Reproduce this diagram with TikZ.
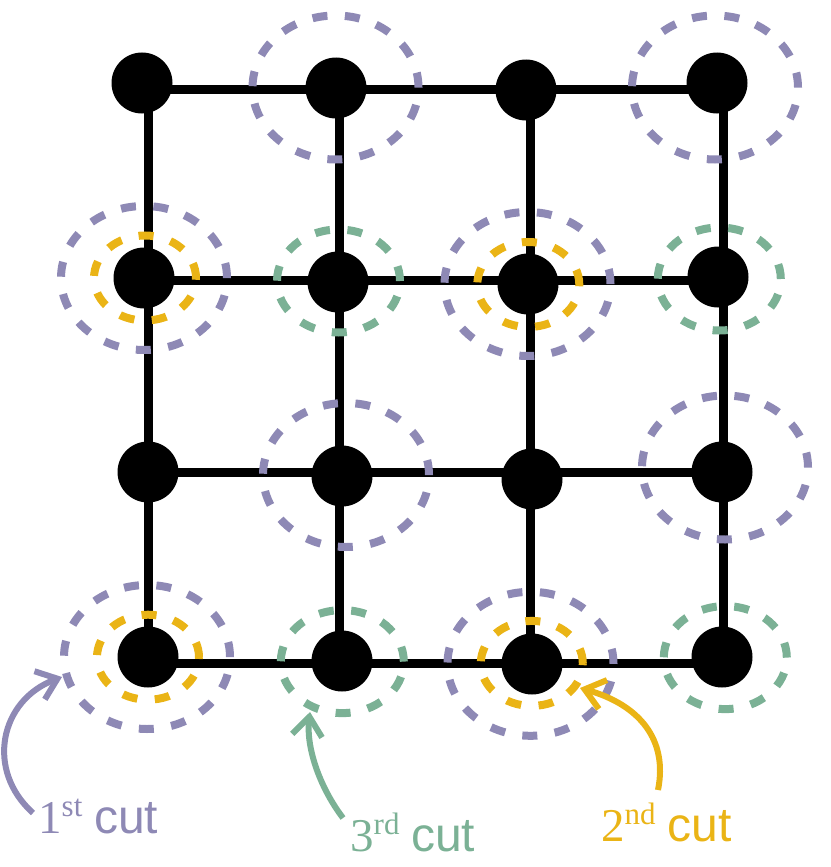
\documentclass[tikz,border=0pt]{standalone}
\usepackage{fontspec}
\setmainfont{Liberation Serif}
\newfontfamily\cutsans{Liberation Sans}
\usetikzlibrary{arrows.meta}
\definecolor{cutpurple}{RGB}{142,137,181}
\definecolor{cutgreen}{RGB}{123,177,149}
\definecolor{cutyellow}{RGB}{234,180,22}
\newcommand{\ordsup}[1]{\raisebox{17pt}{\fontsize{31}{31}\selectfont #1}}
\newcommand{\cutword}{{\cutsans\fontsize{48}{50}\selectfont cut}}
\begin{document}
\begin{tikzpicture}[x=1pt,y=-1pt,
  vertex/.style={circle,fill=black,minimum size=61pt,inner sep=0pt},
  gridline/.style={line width=9pt},
  cutline/.style={line width=8pt,dash pattern=on 15pt off 17.5pt},
  firstcut/.style={cutline,draw=cutpurple,x radius=83pt,y radius=72pt},
  secondcut/.style={cutline,draw=cutyellow,x radius=51pt,y radius=42.5pt},
  thirdcut/.style={cutline,draw=cutgreen,x radius=61.5pt,y radius=51.5pt},
  cutlabel/.style={anchor=base west,inner sep=0pt,font=\fontsize{47}{50}\selectfont},
  pointer/.style={line width=6pt,-{Straight Barb[length=19pt,width=30pt]}}
]
\useasboundingbox (0,0) rectangle (830,867);
% grid junctions
\foreach \r/\y in {1/89,2/280,3/472,4/663}{
  \foreach \c/\x in {1/148,2/339,3/530,4/723}{
    \coordinate (j\r\c) at (\x,\y);
  }
}
% edges
\foreach \r in {1,2,3,4}{
  \draw[gridline] (j\r1) -- (j\r2) -- (j\r3) -- (j\r4);
  \draw[gridline] (j1\r) -- (j2\r) -- (j3\r) -- (j4\r);
}
% vertices
\node[vertex] (v11) at (142,83) {};
\node[vertex] (v12) at (336,88) {};
\node[vertex] (v13) at (526,90) {};
\node[vertex] (v14) at (717,83) {};
\node[vertex] (v21) at (144,278) {};
\node[vertex] (v22) at (338,282) {};
\node[vertex] (v23) at (528,284) {};
\node[vertex] (v24) at (718,277) {};
\node[vertex] (v31) at (148,472) {};
\node[vertex] (v32) at (342,476) {};
\node[vertex] (v33) at (532,479) {};
\node[vertex] (v34) at (722,472) {};
\node[vertex] (v41) at (148,657) {};
\node[vertex] (v42) at (342,661) {};
\node[vertex] (v43) at (532,664) {};
\node[vertex] (v44) at (722,657) {};
% first cut
\draw[firstcut] (335.5,87.5) ellipse [];
\draw[firstcut] (715,87.5) ellipse [];
\draw[firstcut] (144,278) ellipse [];
\draw[firstcut] (527.5,284) ellipse [];
\draw[firstcut] (346,475) ellipse [];
\draw[firstcut] (725,467.5) ellipse [];
\draw[firstcut] (147,657) ellipse [];
\draw[firstcut] (530.5,663.8) ellipse [];
% second cut
\draw[secondcut] (145,278) ellipse [];
\draw[secondcut] (528.3,284.5) ellipse [];
\draw[secondcut] (148,657.2) ellipse [];
\draw[secondcut] (531.8,663.4) ellipse [];
% third cut
\draw[thirdcut] (338.5,281) ellipse [];
\draw[thirdcut] (719.3,279) ellipse [];
\draw[thirdcut] (342.3,661.6) ellipse [];
\draw[thirdcut] (725.3,657.6) ellipse [];
% labels
\node[cutlabel,text=cutpurple] (lab1) at (38,833) {1\ordsup{st} \cutword};
\node[cutlabel,text=cutyellow] (lab2) at (601,841) {2\ordsup{nd} \cutword};
\node[cutlabel,text=cutgreen] (lab3) at (350,851) {3\ordsup{rd} \cutword};
\coordinate (t1) at (62,677);
\coordinate (t2) at (580,688);
\coordinate (t3) at (310,712);
\draw[pointer,cutpurple] ([shift={(-5pt,20pt)}]lab1.base west) .. controls (-15,770) and (0,700) .. (t1);
\draw[pointer,cutyellow] ([shift={(57pt,51pt)}]lab2.base west) .. controls (668,740) and (640,705) .. (t2);
\draw[pointer,cutgreen] ([shift={(-7pt,33pt)}]lab3.base west) .. controls (318,785) and (306,745) .. (t3);
\end{tikzpicture}
\end{document}
